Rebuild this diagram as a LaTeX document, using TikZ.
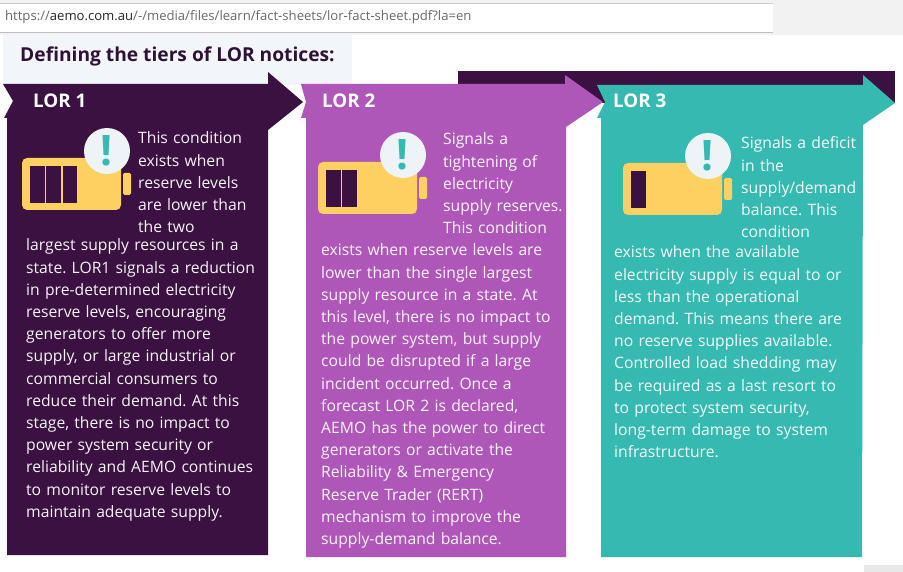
\documentclass[tikz,border=0pt]{standalone}
\usepackage{fontspec}
\setmainfont{Open Sans}
\usetikzlibrary{positioning}
\frenchspacing
\definecolor{lordark}{HTML}{3A1140}
\definecolor{lorpurple}{HTML}{AE57B9}
\definecolor{lorteal}{HTML}{36B9B1}
\definecolor{batyellow}{HTML}{FDD062}
\definecolor{alertbg}{HTML}{EEF3F7}
\definecolor{titlebg}{HTML}{F2F5F9}
\definecolor{titletext}{HTML}{2E1236}
\definecolor{urlgrey}{HTML}{6A6A6A}
\tikzset{
	tier/.style={anchor=base west, inner sep=0pt, text=white, font=\bfseries\fontsize{18.8}{22}\selectfont}, % LOR headings
	blurb/.style={anchor=base west, inner sep=0pt, align=left, text width=#1, font=\fontsize{15.7}{22.2}\selectfont}, % column text
	blurb/.default=280pt,
	battery/.style={fill=batyellow, rounded corners=5pt}, % battery icon
	cell/.style={fill=lordark}, % remaining charge
	alert/.style={circle, fill=alertbg, minimum size=46pt, inner sep=0pt, text=lorteal, font=\bfseries\fontsize{42}{42}\selectfont},
}
\begin{document}
\begin{tikzpicture}[x=1pt, y=-1pt]
	\useasboundingbox (0,0) rectangle (903,572);
	\fill[white] (0,0) rectangle (903,572);
	% address bar
	\fill[black!5] (0,0) rectangle (903,35);
	\fill[white] (0,3) rectangle (773,32);
	\draw[black!20] (0,3) -- (773,3);
	\draw[black!25] (0,32) -- (773,32);
	\node[anchor=base west, inner sep=0pt, text=urlgrey, font=\fontsize{13.1}{15}\selectfont] (url) at (5,21)
		{https://\textcolor{black!85}{aemo.com.au}/-/media/files/learn/fact-sheets/lor-fact-sheet.pdf?la=en};
	% heading
	\fill[titlebg] (3,35) rectangle (352,85);
	\node[anchor=base west, inner sep=0pt, text=titletext, font=\bfseries\fontsize{19.2}{22}\selectfont] (title) at (20,62)
		{Defining the tiers of LOR notices:};
	% tiers
	\fill[lordark] (458,71) rectangle (895,103);
	\fill[lorteal] (597,85) -- (863,85) -- (863,75) -- (895,103) -- (863,125) -- (862,557)
		-- (601,557) -- (601,118) -- (597,118) -- (605,102) -- cycle;
	\fill[lorpurple] (301,84) -- (565,84) -- (565,75) -- (603,102) -- (566,127) -- (566,557)
		-- (306,557) -- (306,118) -- (301,118) -- (306,102) -- cycle;
	\fill[lordark] (3,84) -- (268,84) -- (268,72) -- (303,102) -- (268,130) -- (268,555)
		-- (7,555) -- (7,118) -- (4,118) -- (13,101) -- cycle;
	\node[tier] (lor1) at (33,108) {LOR 1};
	\node[tier] (lor2) at (322,108) {LOR 2};
	\node[tier] (lor3) at (613,108) {LOR 3};
	% battery icons
	\foreach \bx/\by/\n/\name in {22/158/3/one, 318/162/2/two, 623/163/1/three}{
		\fill[battery] (\bx,\by) rectangle ++(99,52);
		\fill[batyellow, rounded corners=1.5pt] (\bx+101,\by+15) rectangle ++(8,22);
		\foreach \c in {1,...,\n}
			\fill[cell] (\bx+8+\c*16.3-16.3,\by+8) rectangle ++(14.5,37);
		\node[alert] (alert\name) at (\bx+85,\by-7) {!};
	}
	% texts
	\node[blurb=150pt, text=white!95!lordark] (wrap1) at (138,144)
		{This condition\\exists when\\reserve levels\\are lower than\\the two};
	\node[blurb, text=white!95!lordark] (text1) at (26,251)
		{largest supply resources in a\\state. LOR1 signals a reduction\\in pre-determined electricity\\
		reserve levels, encouraging\\generators to offer more\\supply, or large industrial or\\
		commercial consumers to\\reduce their demand. At this\\stage, there is no impact to\\
		power system security or\\reliability and AEMO continues\\to monitor reserve levels to\\
		maintain adequate supply.};
	\node[blurb=150pt, text=white!93!lorpurple] (wrap2) at (443,145)
		{Signals a\\tightening of\\electricity\\supply reserves.\\This condition};
	\node[blurb, text=white!93!lorpurple] (text2) at (321,256)
		{exists when reserve levels are\\lower than the single largest\\supply resource in a state. At\\
		this level, there is no impact to\\the power system, but supply\\could be disrupted if a large\\
		incident occurred. Once a\\forecast LOR 2 is declared,\\AEMO has the power to direct\\
		generators or activate the\\Reliability \& Emergency\\Reserve Trader (RERT)\\
		mechanism to improve the\\supply-demand balance.};
	\node[blurb=150pt, text=white!93!lorteal] (wrap3) at (741,149)
		{Signals a deficit\\in the\\supply/demand\\balance. This\\condition};
	\node[blurb, text=white!93!lorteal] (text3) at (614,258)
		{exists when the available\\electricity supply is equal to or\\less than the operational\\
		demand. This means there are\\no reserve supplies available.\\Controlled load shedding may\\
		be required as a last resort to\\to protect system security,\\long-term damage to system\\
		infrastructure.};
	\fill[black!9] (864,565) rectangle (903,572);
\end{tikzpicture}
\end{document}
